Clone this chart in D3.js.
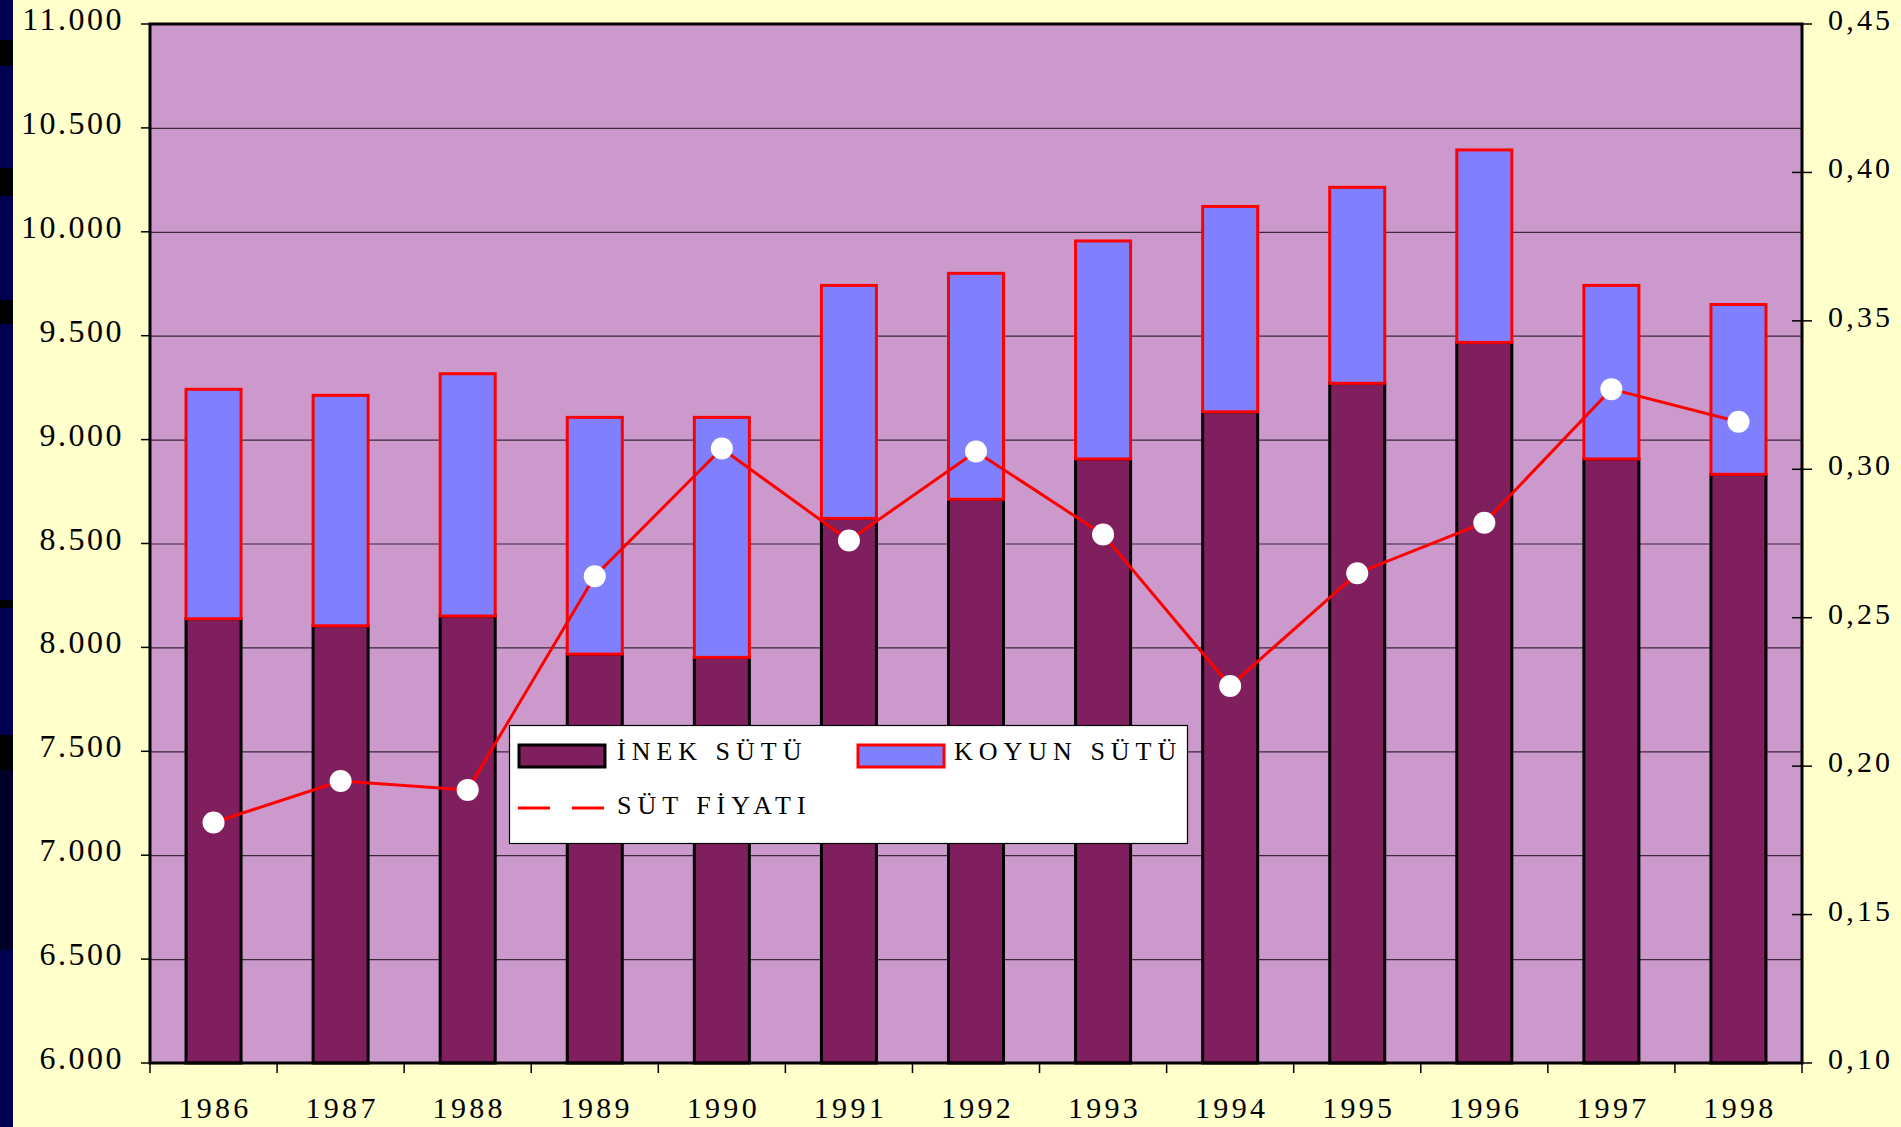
<!DOCTYPE html>
<html>
<head>
<meta charset="utf-8">
<script src="https://cdnjs.cloudflare.com/ajax/libs/d3/7.8.5/d3.min.js"></script>
<style>
  body { margin: 0; background: #FFFFCC; }
  svg { display: block; }
</style>
</head>
<body>
<div class="chart"></div>
<script>
// yillar ve seriler
var years = ["1986", "1987", "1988", "1989", "1990", "1991", "1992", "1993", "1994", "1995", "1996", "1997", "1998"];
var inekSutu = [8138, 8104, 8151, 7968, 7952, 8621, 8713, 8907, 9134, 9271, 9468, 8907, 8833];
var koyunSutu = [1104, 1109, 1166, 1139, 1155, 1121, 1087, 1049, 988, 943, 926, 835, 817];
var sutFiyati = [0.181, 0.195, 0.192, 0.264, 0.307, 0.276, 0.306, 0.278, 0.227, 0.265, 0.282, 0.327, 0.316];
var leftTicks = [6000, 6500, 7000, 7500, 8000, 8500, 9000, 9500, 10000, 10500, 11000];
var rightTicks = [0.10, 0.15, 0.20, 0.25, 0.30, 0.35, 0.40, 0.45];
var legendLabels = ["İNEK SÜTÜ", "KOYUN SÜTÜ", "SÜT FİYATI"];

var width = 1901, height = 1127;
var plot = { left: 150, right: 1802, top: 24, bottom: 1063 };
var serif = "'Liberation Serif', 'Times New Roman', serif";

var trLocale = d3.formatLocale({ decimal: ",", thousands: ".", grouping: [3], currency: ["", ""] });
var fmtLeft = trLocale.format(",.0f");
var fmtRight = trLocale.format(".2f");

var svg = d3.select(".chart").append("svg")
    .attr("width", width)
    .attr("height", height)
    .attr("font-family", serif);

// arka plan
svg.append("rect").attr("width", width).attr("height", height).attr("fill", "#FFFFCC");

// soldaki lacivert serit (slayt kenari)
svg.append("rect").attr("x", 0).attr("y", 0).attr("width", 13).attr("height", height).attr("fill", "#000050");
[[40, 26], [168, 28], [300, 24], [600, 8], [735, 35], [770, 180]].forEach(function(p) {
  svg.append("rect").attr("x", 0).attr("y", p[0]).attr("width", 13).attr("height", p[1])
     .attr("fill", p[1] > 100 ? "#000028" : "#000000");
});

var x = d3.scaleBand()
    .domain(years)
    .range([plot.left, plot.right])
    .paddingInner(0.567)
    .paddingOuter(0.2835);

var y = d3.scaleLinear().domain([6000, 11000]).range([plot.bottom, plot.top]);
var y2 = d3.scaleLinear().domain([0.10, 0.45]).range([plot.bottom, plot.top]);

// cizim alani
svg.append("rect")
    .attr("x", plot.left).attr("y", plot.top)
    .attr("width", plot.right - plot.left).attr("height", plot.bottom - plot.top)
    .attr("fill", "#CC99CC");

// yatay izgara
svg.append("g").attr("class", "grid")
  .selectAll("line")
  .data(leftTicks.slice(1, -1))
  .enter().append("line")
    .attr("x1", plot.left).attr("x2", plot.right)
    .attr("y1", function(d) { return y(d) + 0.5; })
    .attr("y2", function(d) { return y(d) + 0.5; })
    .attr("stroke", "#3a2a3a").attr("stroke-width", 1.2);

var stacked = years.map(function(yr, i) {
  return { year: yr, inek: inekSutu[i], total: inekSutu[i] + koyunSutu[i] };
});

var bars = svg.append("g").attr("class", "bars");

bars.selectAll("rect.inek")
  .data(stacked)
  .enter().append("rect")
    .attr("class", "inek")
    .attr("x", function(d) { return x(d.year); })
    .attr("width", x.bandwidth())
    .attr("y", function(d) { return y(d.inek); })
    .attr("height", function(d) { return y(6000) - y(d.inek); })
    .attr("fill", "#801F5E")
    .attr("stroke", "#000").attr("stroke-width", 3);

bars.selectAll("rect.koyun")
  .data(stacked)
  .enter().append("rect")
    .attr("class", "koyun")
    .attr("x", function(d) { return x(d.year); })
    .attr("width", x.bandwidth())
    .attr("y", function(d) { return y(d.total); })
    .attr("height", function(d) { return y(d.inek) - y(d.total); })
    .attr("fill", "#8080FF")
    .attr("stroke", "#FF0000").attr("stroke-width", 3);

// cerceve
svg.append("rect")
    .attr("x", plot.left).attr("y", plot.top)
    .attr("width", plot.right - plot.left).attr("height", plot.bottom - plot.top)
    .attr("fill", "none").attr("stroke", "#000").attr("stroke-width", 3);

// fiyat cizgisi
var priceLine = d3.line()
    .x(function(d, i) { return x(years[i]) + x.bandwidth() / 2; })
    .y(function(d) { return y2(d); });

svg.append("path")
    .datum(sutFiyati)
    .attr("d", priceLine)
    .attr("fill", "none")
    .attr("stroke", "#FF0000")
    .attr("stroke-width", 3);

svg.append("g").selectAll("circle")
  .data(sutFiyati)
  .enter().append("circle")
    .attr("cx", function(d, i) { return x(years[i]) + x.bandwidth() / 2; })
    .attr("cy", function(d) { return y2(d); })
    .attr("r", 11)
    .attr("fill", "#FFFFFF");

// sol eksen
var leftAxis = svg.append("g").attr("class", "left-axis");
leftAxis.selectAll("line")
  .data(leftTicks)
  .enter().append("line")
    .attr("x1", plot.left - 9).attr("x2", plot.left)
    .attr("y1", function(d) { return y(d); }).attr("y2", function(d) { return y(d); })
    .attr("stroke", "#000").attr("stroke-width", 1.5);
leftAxis.selectAll("text")
  .data(leftTicks)
  .enter().append("text")
    .attr("x", 124)
    .attr("y", function(d) { return y(d) + 6; })
    .attr("text-anchor", "end")
    .attr("font-size", 32)
    .attr("letter-spacing", 2.5)
    .text(function(d) { return fmtLeft(d); });

// sag eksen
var rightAxis = svg.append("g").attr("class", "right-axis");
rightAxis.selectAll("line")
  .data(rightTicks)
  .enter().append("line")
    .attr("x1", plot.right - 10).attr("x2", plot.right + 10)
    .attr("y1", function(d) { return y2(d); }).attr("y2", function(d) { return y2(d); })
    .attr("stroke", "#000").attr("stroke-width", 1.5);
rightAxis.selectAll("text")
  .data(rightTicks)
  .enter().append("text")
    .attr("x", 1828)
    .attr("y", function(d) { return y2(d) + 6; })
    .attr("font-size", 30)
    .attr("letter-spacing", 3.2)
    .text(function(d) { return fmtRight(d); });

// x ekseni
var bottomAxis = svg.append("g").attr("class", "x-axis");
var boundaries = years.map(function(yr) { return x(yr) - x.step() * x.paddingInner() / 2; });
boundaries.push(plot.right);
bottomAxis.selectAll("line")
  .data(boundaries)
  .enter().append("line")
    .attr("x1", function(d) { return d; }).attr("x2", function(d) { return d; })
    .attr("y1", plot.bottom).attr("y2", plot.bottom + 10)
    .attr("stroke", "#000").attr("stroke-width", 1.5);
bottomAxis.selectAll("text")
  .data(years)
  .enter().append("text")
    .attr("x", function(d) { return x(d) + x.bandwidth() / 2 + 1.5; })
    .attr("y", 1118)
    .attr("text-anchor", "middle")
    .attr("font-size", 30)
    .attr("letter-spacing", 3.3)
    .text(function(d) { return d; });

// lejant
var legend = svg.append("g").attr("class", "legend");
legend.append("rect")
    .attr("x", 509.5).attr("y", 725.5).attr("width", 678).attr("height", 118)
    .attr("fill", "#FFFFFF").attr("stroke", "#000").attr("stroke-width", 1.2);
legend.append("rect")
    .attr("x", 519).attr("y", 745).attr("width", 86).attr("height", 22)
    .attr("fill", "#801F5E").attr("stroke", "#000").attr("stroke-width", 3);
legend.append("rect")
    .attr("x", 858).attr("y", 745).attr("width", 86).attr("height", 22)
    .attr("fill", "#8080FF").attr("stroke", "#FF0000").attr("stroke-width", 3);
legend.append("line")
    .attr("x1", 518).attr("x2", 606).attr("y1", 808).attr("y2", 808)
    .attr("stroke", "#FF0000").attr("stroke-width", 3)
    .attr("stroke-dasharray", "32 22");
var legendPos = [[617, 760], [954, 760], [617, 814]];
legend.selectAll("text")
  .data(legendLabels)
  .enter().append("text")
    .attr("x", function(d, i) { return legendPos[i][0]; })
    .attr("y", function(d, i) { return legendPos[i][1]; })
    .attr("font-size", 26)
    .attr("letter-spacing", 6)
    .text(function(d) { return d; });
</script>
</body>
</html>
